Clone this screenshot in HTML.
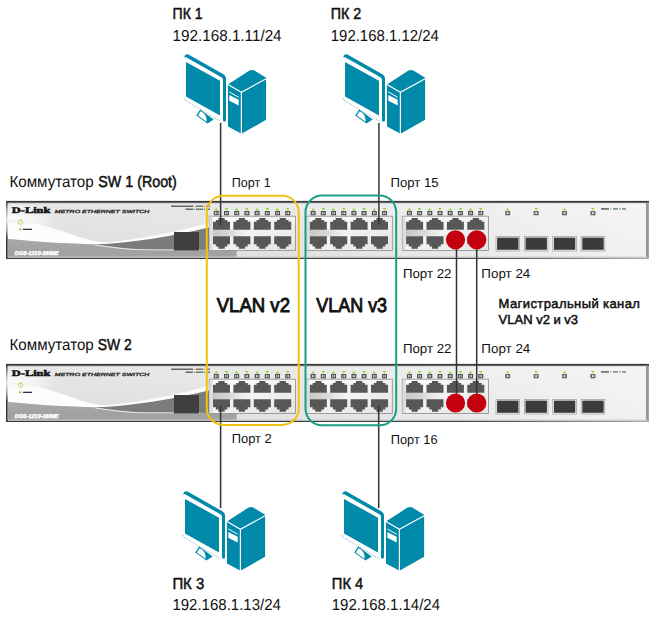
<!DOCTYPE html>
<html><head><meta charset="utf-8">
<style>
html,body{margin:0;padding:0;background:#fff;}
svg{display:block;}
text{font-family:"Liberation Sans",sans-serif;fill:#111;text-rendering:geometricPrecision;}
.b{font-weight:normal;stroke:#111;stroke-width:0.5px;}
</style></head><body>
<svg width="650" height="619" viewBox="0 0 650 619">
<defs>
<linearGradient id="fp" x1="0" y1="0" x2="0" y2="1">
<stop offset="0" stop-color="#e6e6e6"/><stop offset="1" stop-color="#dcdcdc"/>
</linearGradient>
<linearGradient id="sw1" x1="0" y1="0" x2="0" y2="1">
<stop offset="0" stop-color="#f0f0f0"/><stop offset="0.25" stop-color="#fcfcfc"/><stop offset="1" stop-color="#ffffff"/>
</linearGradient>
<linearGradient id="gl" x1="0" y1="0" x2="0" y2="1">
<stop offset="0" stop-color="#a9a9a9"/><stop offset="0.6" stop-color="#a2a2a2"/><stop offset="1" stop-color="#979797"/>
</linearGradient>
<linearGradient id="fph" x1="0" y1="0" x2="1" y2="0">
<stop offset="0" stop-color="#fff" stop-opacity="0"/><stop offset="0.5" stop-color="#fff" stop-opacity="0.2"/><stop offset="1" stop-color="#fff" stop-opacity="0.6"/>
</linearGradient>
<linearGradient id="bb" x1="0" y1="0" x2="1" y2="0">
<stop offset="0" stop-color="#363636"/><stop offset="0.7" stop-color="#3e3e3e"/><stop offset="1" stop-color="#b4b4b4"/>
</linearGradient>
<linearGradient id="shine" x1="0" y1="0" x2="1" y2="0">
<stop offset="0" stop-color="#c4c4c4"/><stop offset="0.5" stop-color="#dadada"/><stop offset="1" stop-color="#f4f4f4" stop-opacity="0"/>
</linearGradient>
<radialGradient id="rg">
<stop offset="0" stop-color="#fff" stop-opacity="0.9"/><stop offset="0.6" stop-color="#fff" stop-opacity="0.5"/><stop offset="1" stop-color="#fff" stop-opacity="0"/>
</radialGradient>
<linearGradient id="pnl" x1="0" y1="0" x2="1" y2="1">
<stop offset="0" stop-color="#ffffff"/><stop offset="0.5" stop-color="#f2f2f2"/><stop offset="1" stop-color="#e4e4e4"/>
</linearGradient>
<path id="pt" d="M0,3.8H2.8V2H5.4V0H11.7V2H14.3V3.8H17V11.8H0Z" fill="#575757"/>
<path id="pb" d="M0,0H17V8H14.3V10.4H11.7V12.6H5.4V10.4H2.8V8H0Z" fill="#575757"/>
<g id="col">
<use href="#pt" x="0" y="218"/>
<use href="#pb" x="0" y="236.2"/>
<rect x="0.8" y="211" width="5" height="4.3" fill="#505050"/>
<rect x="11" y="211" width="5" height="4.3" fill="#505050"/>
<path d="M2.1,212.1h0.9v2.1h-0.9z M3.6,212.1h0.9v2.1h-0.9z M12.3,212.1h0.9v2.1h-0.9z M13.8,212.1h0.9v2.1h-0.9z" fill="#e6e6e6"/>
<path d="M1.4,210.4H5.2L3.3,208Z M11.6,208H15.4L13.5,210.4Z" fill="#92d636"/>
</g>
<g id="grp">
<rect x="0" y="216.2" width="86.3" height="34.3" fill="url(#pnl)" stroke="#8a8a8a" stroke-width="0.8"/>
<rect x="0.4" y="229.6" width="45" height="6.8" fill="url(#shine)"/>
<rect x="0.4" y="216.6" width="3" height="33.5" fill="#dedede"/>
<use href="#col" x="3.8"/>
<use href="#col" x="24.2"/>
<use href="#col" x="44.6"/>
<use href="#col" x="65"/>
</g>
<g id="sfp">
<rect x="0" y="236.4" width="23.6" height="14.6" fill="#f7f7f7" stroke="#8a8a8a" stroke-width="0.6"/>
<rect x="1.1" y="237.6" width="21.4" height="12.2" fill="#3b3b3b"/>
<rect x="9.2" y="211" width="5" height="4.3" fill="#6a6a6a"/>
<rect x="10.8" y="212.2" width="1.8" height="1.8" fill="#e8e8e8"/>
</g>
<g id="sw">
<rect x="6" y="200.9" width="643" height="58" fill="#363636"/>
<rect x="7.3" y="202.5" width="640.4" height="55.3" fill="#9a9a9a"/>
<rect x="8.1" y="203.3" width="639.4" height="54.5" fill="url(#fp)"/>
<rect x="8.1" y="203.3" width="639.4" height="54.5" fill="url(#fph)"/>
<rect x="646.4" y="202.5" width="2.6" height="56.4" fill="#a4a4a4"/>
<rect x="646.4" y="202.5" width="0.9" height="55.3" fill="#7a7a7a"/>
<rect x="6" y="257.8" width="643" height="1.1" fill="url(#bb)"/>
<ellipse cx="12" cy="220" rx="45" ry="18" fill="url(#rg)"/>
<!-- white swoosh region -->
<path d="M8.1,219 C30,221 55,228 78,236.5 C88,240 96,242 106,242.4 C130,240.5 175,233 209,222.5 L209,227.5 C175,236 140,242 105,244.5 C70,244 40,242 8.1,239Z" fill="url(#sw1)"/>
<!-- gray lower -->
<path d="M8.1,239 C40,242 70,244 105,244.5 L209,249 L209,257.8 L8.1,257.8Z" fill="url(#gl)"/>
<!-- dark wedge -->
<path d="M95,244.6 C130,243 175,236 209,227.5 L209,249.5 L145,249.5 C125,249 110,246.5 95,244.6Z" fill="#7c7c7c"/>
<path d="M95,244.9 C110,247 125,249.4 145,249.9 L200,250.1" stroke="#efefef" stroke-width="1" fill="none"/>
<rect x="8.1" y="250.6" width="228.5" height="7.2" fill="#a2a2a2"/>
<rect x="8.1" y="256.6" width="639.4" height="1" fill="#c9c9c9"/>
<rect x="174" y="232" width="25" height="18.5" fill="#3f3f3f"/>
<!-- logo -->
<text x="11.8" y="212.7" font-weight="bold" font-size="8.6" textLength="38.6" lengthAdjust="spacingAndGlyphs" style="font-family:'Liberation Serif';fill:#111;stroke:#111;stroke-width:0.5">D-Link</text>
<text x="54.8" y="213.2" font-style="italic" font-size="4.5" textLength="94.6" lengthAdjust="spacingAndGlyphs" style="fill:#222;stroke:#222;stroke-width:0.28">METRO ETHERNET SWITCH</text>
<circle cx="20.5" cy="222.1" r="2.3" fill="none" stroke="#bddc6e" stroke-width="1"/>
<path d="M20.5,219.2V222.3" stroke="#bddc6e" stroke-width="0.9"/>
<circle cx="20.3" cy="229.3" r="1.4" fill="#b3d763"/>
<rect x="23" y="228.7" width="9" height="1.3" fill="#3a2a4a"/>
<text x="14.8" y="255" font-style="italic" font-weight="bold" font-size="5.6" textLength="43.6" lengthAdjust="spacingAndGlyphs" style="fill:#fff;stroke:#fff;stroke-width:0.45">DGS-1210-28/ME</text>
<rect x="171" y="205.5" width="22" height="1.5" fill="#666"/>
<rect x="196" y="205.5" width="7" height="1.5" fill="#777"/>
<rect x="206" y="205.5" width="4" height="1.5" fill="#777"/>
<rect x="185.5" y="208.5" width="7.5" height="1.5" fill="#666"/>
<rect x="196" y="208.5" width="7" height="1.5" fill="#777"/>
<rect x="206" y="208.5" width="4" height="1.5" fill="#777"/>
<circle cx="194.6" cy="206.3" r="0.8" fill="#f5a030"/>
<circle cx="204.3" cy="206.3" r="0.9" fill="#f5a030"/>
<circle cx="194.6" cy="209.3" r="0.8" fill="#4cb848"/>
<circle cx="204.3" cy="209.3" r="0.9" fill="#4cb848"/>
<rect x="601" y="208.2" width="8" height="1.4" fill="#555"/>
<circle cx="611" cy="208.9" r="0.7" fill="#4cb848"/>
<rect x="613" y="208.2" width="5" height="1.4" fill="#777"/>
<circle cx="620" cy="208.9" r="0.8" fill="#4cb848"/>
<rect x="622" y="208.2" width="4" height="1.4" fill="#777"/>
<use href="#grp" x="209.2"/>
<use href="#grp" x="306.0"/>
<use href="#grp" x="402.3"/>
<use href="#sfp" x="496"/>
<use href="#sfp" x="524.4"/>
<use href="#sfp" x="552.8"/>
<use href="#sfp" x="581.2"/>
<path d="M505.8,210.3H509.6L507.7,208Z M534.2,208H538L536.1,210.3Z M562.6,210.3H566.4L564.5,208Z M591,208H594.8L592.9,210.3Z" fill="#92d636"/>
</g>
<g id="pc">
<!-- monitor band -->
<path d="M184.4,57.6 Q184.3,54.1 188,54.2 L222.5,73.8 Q226,75.8 226,78.6 L226,120.3 Q226,121.7 224.6,121.7 Q223,121.7 223,120.3 L223,79.8 Q223,78.2 221.4,77.3 L186.2,57.3 Q184.9,57.2 184.4,57.6Z" fill="#0089a8"/>
<path d="M186,62 L220,80.7 L220,115.4 L186,96.5Z" fill="#0089a8"/>
<path d="M184.3,98.3 V99.8 L221.3,121.9" stroke="#5fb0c6" stroke-width="0.9" stroke-dasharray="1.1,1.1" fill="none"/>
<path d="M200.1,109.5 L213.7,119.5 L207.5,123.6 L196.2,115.5Z" fill="#0089a8"/>
<path d="M200.5,111.2 Q203.5,112 205.5,115.5 Q207,119 206.6,121.8 L197.8,115.6Z" fill="#fff"/>
<!-- tower -->
<path d="M227.9,84.4 L249.5,70.6 Q252,69.4 254.4,70.6 L266.1,77.8 L266.1,119.8 L241.5,133.8 L228,126.4Z" fill="#0089a8"/>
<path d="M228,84.6 L241.4,92.3 L266.1,78.8 M241.4,92.3 L241.4,134" stroke="#fff" stroke-width="1.2" fill="none"/>
<path d="M229.3,91.9 L238.7,97.3" stroke="#fff" stroke-width="1" fill="none"/>
<path d="M229.3,95 L238.7,99.8 L238.7,105.5 L229.3,100.8Z" fill="#fff"/>
</g>
</defs>

<use href="#sw"/>
<use href="#sw" y="163"/>

<!-- cables -->
<g stroke="#333" stroke-width="1.5" fill="none">
<path d="M220.6,123 V225.5"/>
<path d="M378.9,123 V225"/>
<path d="M220.6,406 V508"/>
<path d="M378.7,406 V508"/>
<path d="M456.5,240 V403"/>
<path d="M476.7,240 V403"/>
</g>
<!-- VLAN boxes -->
<rect x="206.8" y="195.8" width="91.9" height="229.1" rx="16.5" fill="none" stroke="#efc212" stroke-width="2"/>
<rect x="305.5" y="195.6" width="90.7" height="229.7" rx="16.5" fill="none" stroke="#17a086" stroke-width="2"/>

<g fill="#c4000e">
<circle cx="455.5" cy="239.8" r="9.6"/>
<circle cx="476.8" cy="239.8" r="9.6"/>
<circle cx="455.5" cy="403" r="9.6"/>
<circle cx="476.8" cy="403" r="9.6"/>
</g>

<use href="#pc"/>
<use href="#pc" x="159"/>
<use href="#pc" x="-1" y="437"/>
<use href="#pc" x="158" y="437"/>

<!-- texts -->
<text class="b" x="172.6" y="19" font-size="15.9" textLength="30" lengthAdjust="spacingAndGlyphs">ПК 1</text>
<text x="172.6" y="41" font-size="15.9" textLength="109" lengthAdjust="spacingAndGlyphs">192.168.1.11/24</text>
<text class="b" x="330.8" y="19" font-size="15.9" textLength="30.5" lengthAdjust="spacingAndGlyphs">ПК 2</text>
<text x="330.8" y="41" font-size="15.9" textLength="108" lengthAdjust="spacingAndGlyphs">192.168.1.12/24</text>

<text x="9.4" y="187" font-size="15.9" textLength="84.3" lengthAdjust="spacingAndGlyphs">Коммутатор</text>
<text class="b" x="98.3" y="187" font-size="15.9" textLength="78.5" lengthAdjust="spacingAndGlyphs">SW 1 (Root)</text>
<text x="231.7" y="187.1" font-size="13" textLength="39" lengthAdjust="spacingAndGlyphs">Порт 1</text>
<text x="390.6" y="186.7" font-size="13" textLength="48" lengthAdjust="spacingAndGlyphs">Порт 15</text>
<text x="402.9" y="278" font-size="13" textLength="48.6" lengthAdjust="spacingAndGlyphs">Порт 22</text>
<text x="481.3" y="278" font-size="13" textLength="49" lengthAdjust="spacingAndGlyphs">Порт 24</text>

<text class="b" style="stroke-width:0.9px" x="216.7" y="311.6" font-size="20" textLength="73.3" lengthAdjust="spacingAndGlyphs">VLAN v2</text>
<text class="b" style="stroke-width:0.9px" x="316.3" y="311.6" font-size="20" textLength="70.8" lengthAdjust="spacingAndGlyphs">VLAN v3</text>
<text class="b" x="498.6" y="307.8" font-size="13" textLength="141.3" lengthAdjust="spacing">Магистральный канал</text>
<text class="b" x="498.6" y="323.5" font-size="13" textLength="79.5" lengthAdjust="spacingAndGlyphs">VLAN v2 и v3</text>

<text x="402.9" y="353" font-size="13" textLength="48.6" lengthAdjust="spacingAndGlyphs">Порт 22</text>
<text x="481.3" y="353" font-size="13" textLength="49" lengthAdjust="spacingAndGlyphs">Порт 24</text>
<text x="9.5" y="350" font-size="15.9" textLength="84.3" lengthAdjust="spacingAndGlyphs">Коммутатор</text>
<text class="b" x="97.8" y="350" font-size="15.9" textLength="34" lengthAdjust="spacingAndGlyphs">SW 2</text>

<text x="231.8" y="442.8" font-size="13" textLength="40" lengthAdjust="spacingAndGlyphs">Порт 2</text>
<text x="390.8" y="443.5" font-size="13" textLength="46.8" lengthAdjust="spacingAndGlyphs">Порт 16</text>

<text class="b" x="172.4" y="589" font-size="15.9" textLength="31.8" lengthAdjust="spacingAndGlyphs">ПК 3</text>
<text x="172.4" y="610" font-size="15.9" textLength="108.5" lengthAdjust="spacingAndGlyphs">192.168.1.13/24</text>
<text class="b" x="331.8" y="589" font-size="15.9" textLength="31.5" lengthAdjust="spacingAndGlyphs">ПК 4</text>
<text x="331.8" y="610" font-size="15.9" textLength="108.2" lengthAdjust="spacingAndGlyphs">192.168.1.14/24</text>
</svg>
</body></html>
